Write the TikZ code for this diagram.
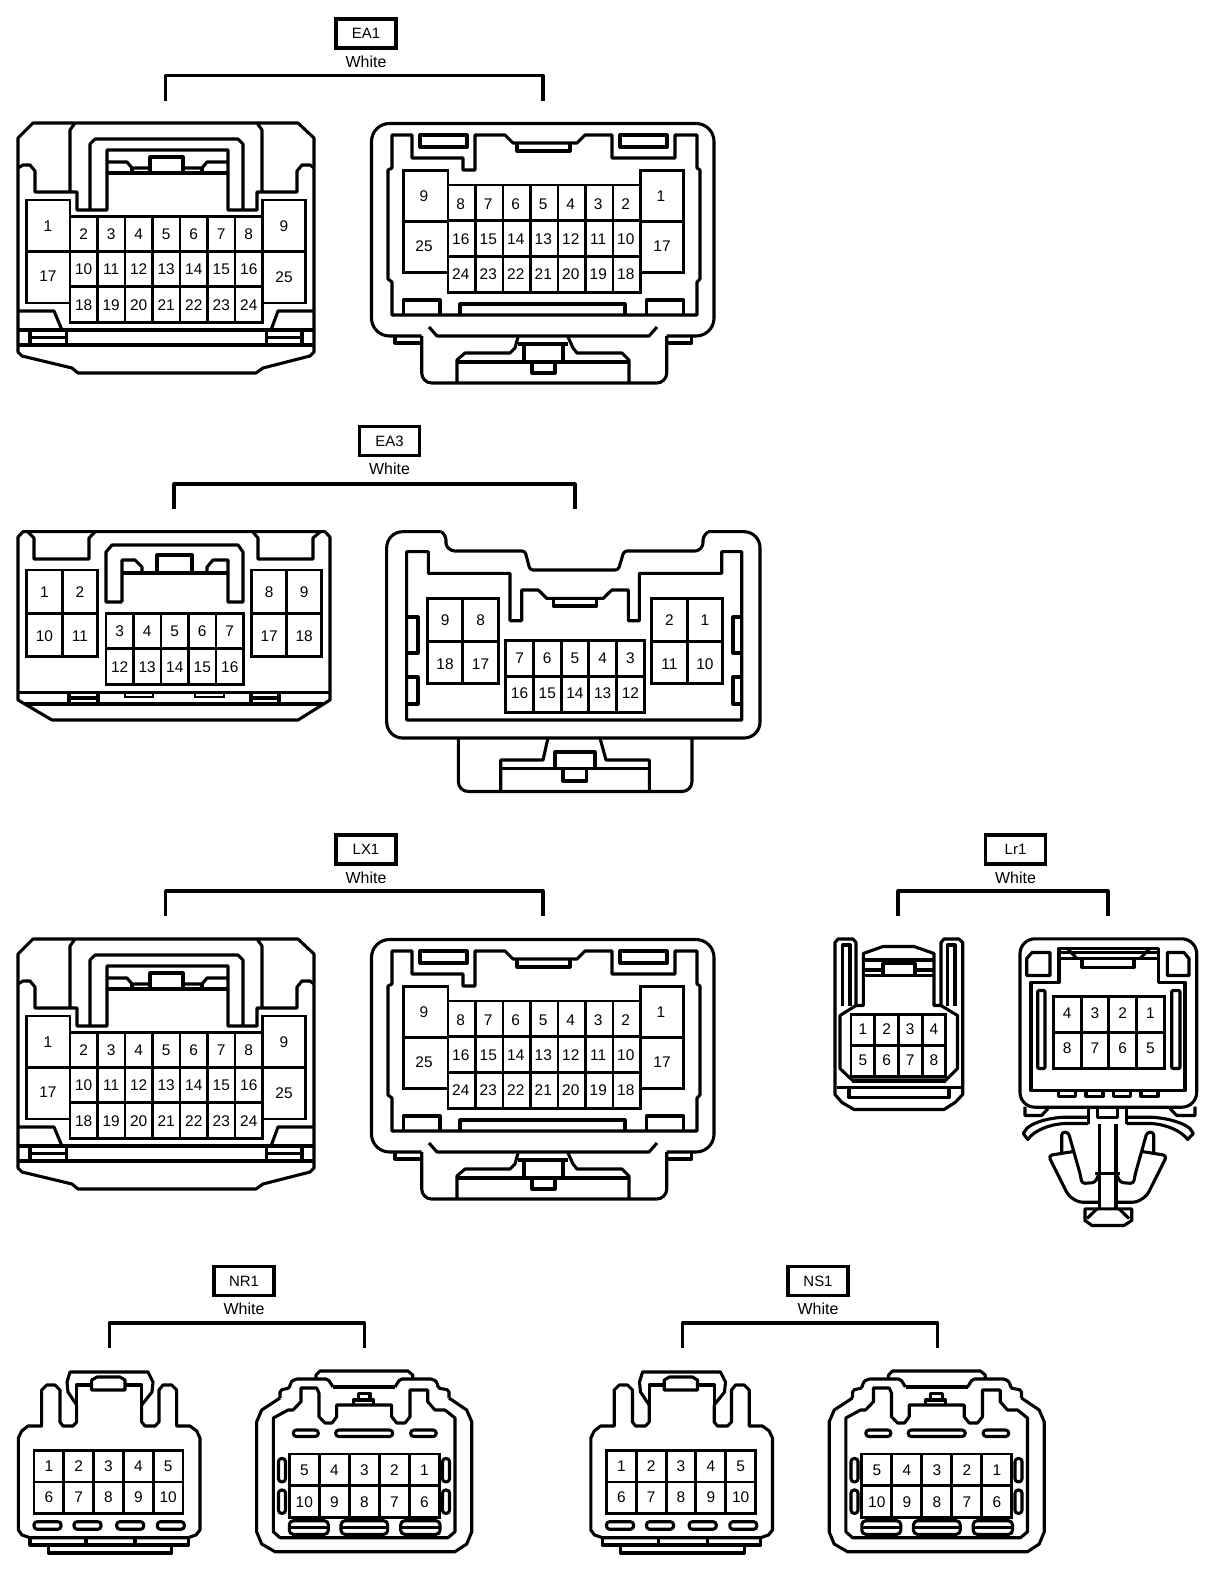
\documentclass[tikz,border=0pt]{standalone}
\usepackage{fontspec}
\setmainfont{Liberation Sans}
\usetikzlibrary{positioning}

\tikzset{
    shell/.style={line width=3.1pt, line join=round},
    pin/.style={line width=2.9pt},
    pinlabel/.style={inner sep=0pt, font=\fontsize{15.5}{16}\selectfont},
    tagbox/.style={draw, line width=3.1pt, minimum width=60bp, minimum height=29bp, inner sep=0pt, font=\fontsize{15}{16}\selectfont},
    colourtag/.style={inner sep=0pt, font=\fontsize{16}{16}\selectfont}
}

% grid of cavities: x, y, columns, rows, pitch x, pitch y
\newcommand{\pingrid}[6]{%
    \foreach \c in {1,...,#3} \foreach \r in {1,...,#4}
        \draw[pin] ({#1+(\c-1)*#5},{#2+(\r-1)*#6}) rectangle ++(#5,#6);
}
% row of numbers: prefix, x of first cell, pitch, y, numbers
\newcommand{\pinrow}[5]{%
    \foreach \n [count=\i] in {#5}
        \node[pinlabel] (#1\n) at ({#2+(\i-0.5)*#3},#4) {\n};
}
% title box, colour and bracket: name, text, x, y of box, left, right, y of bracket
\newcommand{\tagbracket}[7]{%
    \node[tagbox] (tag#1) at (#3,#4) {#2};
    \node[colourtag, below=6pt of tag#1] (col#1) {White};
    \draw[shell] (#5,#7+25) -- (#5,#7) -- (#6,#7) -- (#6,#7+25);
}

% big plug, 25 way
\newcommand{\widefront}[1]{%
    \draw[shell] (18,138) -- (33,123) -- (298,123) -- (314,138) -- (314,352) -- (310,356) -- (263,368) -- (256,373) -- (78,373) -- (72,368) -- (22,356) -- (18,352) -- cycle;
    \draw[shell] (18,168) -- (23,165) -- (30,165) -- (35,171) -- (35,192) -- (77,192) -- (77,210) -- (107,210) -- (107,150) -- (228,150) -- (228,210) -- (257,210) -- (257,192) -- (297,192) -- (297,171) -- (302,165) -- (310,165) -- (314,168);
    \draw[shell] (70,192) -- (70,130) -- (75,123) (262,192) -- (262,130) -- (257,123);
    \draw[shell] (90,210) -- (90,144) -- (95,139) -- (238,139) -- (243,144) -- (243,210);
    % latch
    \draw[shell] (107,162) -- (127,162) -- (132,168) -- (150,168) (183,168) -- (202,168) -- (207,162) -- (228,162);
    \draw[shell] (107,173) -- (228,173) (132,168) -- (132,173) (202,168) -- (202,173);
    \draw[shell] (150,172) -- (150,157) -- (183,157) -- (183,172);
    % cavities
    \pingrid{70}{216.5}{7}{3}{27.5}{35.2}
    \draw[pin] (26.5,200) rectangle (70,251.7) (26.5,251.7) rectangle (70,303);
    \draw[pin] (262.5,200) rectangle (305.5,251.7) (262.5,251.7) rectangle (305.5,303);
    \pinrow{#1}{70}{27.5}{234}{2,3,4,5,6,7,8}
    \pinrow{#1}{70}{27.5}{269}{10,11,12,13,14,15,16}
    \pinrow{#1}{70}{27.5}{305}{18,19,20,21,22,23,24}
    \node[pinlabel] (#11) at (48,226) {1};
    \node[pinlabel] (#117) at (48,276) {17};
    \node[pinlabel] (#19) at (284,226) {9};
    \node[pinlabel] (#125) at (284,277) {25};
    % lower rail
    \draw[shell] (18,311) -- (54,311) -- (62,330) (314,311) -- (278,311) -- (271,330);
    \draw[shell] (18,330) -- (314,330) (18,345) -- (314,345);
    \draw[shell] (30,330) -- (30,345) (66.5,330) -- (66.5,345) (30,337.5) -- (66.5,337.5);
    \draw[shell] (266.5,330) -- (266.5,345) (302,330) -- (302,345) (266.5,337.5) -- (302,337.5);
}
\newcommand{\wideback}[1]{%
    \draw[shell, rounded corners=18pt] (421.7,336) -- (371.5,336) -- (371.5,123.5) -- (714,123.5) -- (714,336) -- (666.7,336);
    \draw[shell] (395,336) -- (395,343) -- (421.7,343) (666.7,343) -- (691.7,343) -- (691.7,336);
    \draw[shell, rounded corners=10pt] (421.7,336) -- (421.7,383) -- (666.7,383) -- (666.7,336);
    \draw[shell] (392,135) -- (412,135) -- (412,158) -- (463,158) -- (463,170) -- (475,170) -- (475,135) -- (505,135) -- (513,143) -- (577,143) -- (585,135) -- (612,135) -- (612,158) -- (675,158) -- (675,135) -- (697,135) -- (697,168) -- (700,170) -- (700,279) -- (697,282) -- (697,315) -- (392,315) -- (392,282) -- (388,279) -- (388,170) -- (392,168) -- cycle;
    \draw[shell] (420,135) rectangle (467,147);
    \draw[shell] (620,135) rectangle (667,147);
    \draw[shell] (517,143) -- (517,151) -- (570,151) -- (570,143);
    % cavities
    \pingrid{448}{185}{7}{3}{27.5}{35.7}
    \draw[pin] (403.5,170.7) rectangle (448,221.7) (403.5,221.7) rectangle (448,272.3);
    \draw[pin] (640.5,170.7) rectangle (683.3,221.7) (640.5,221.7) rectangle (683.3,272.3);
    \pinrow{#1}{447}{27.5}{204.5}{8,7,6,5,4,3,2}
    \pinrow{#1}{447}{27.5}{239.5}{16,15,14,13,12,11,10}
    \pinrow{#1}{447}{27.5}{274.5}{24,23,22,21,20,19,18}
    \node[pinlabel] (#19) at (424,196) {9};
    \node[pinlabel] (#125) at (424,246.5) {25};
    \node[pinlabel] (#11) at (661,196) {1};
    \node[pinlabel] (#117) at (662,246.5) {17};
    % pads
    \draw[shell] (403.5,315) -- (403.5,300) -- (440,300) -- (440,315);
    \draw[shell] (646.7,315) -- (646.7,300) -- (683.3,300) -- (683.3,315);
    \draw[shell] (460,315) -- (460,304) -- (625,304) -- (625,315);
    % lock
    \draw[shell] (429,327) -- (437,336) -- (649,336) -- (657,327);
    \draw[shell] (518,337) -- (515,348) -- (510,353) -- (465,353) -- (457,360) -- (457,383);
    \draw[shell] (568,337) -- (573,348) -- (577,353) -- (622,353) -- (629,360) -- (629,383);
    \draw[shell] (457,362) -- (629,362);
    \draw[shell] (518,344) -- (568,344) (524,344) -- (524,362) (563,344) -- (563,362);
    \draw[shell] (532,362) -- (532,373) -- (555,373) -- (555,362);
}

% small plug, 10 way
\newcommand{\tenfront}[1]{%
    \draw[shell] (76.7,1405) -- (76.7,1422) -- (73,1426) -- (63,1426) -- (60,1422) -- (60,1390) -- (55,1385) -- (46.7,1385) -- (41.7,1390) -- (41.7,1426) -- (28,1426) -- (21.7,1431) -- (18.3,1438) -- (18.3,1530) -- (22,1535) -- (30,1537.7) -- (188,1537.7) -- (196,1535) -- (200,1530) -- (200,1438) -- (196.7,1431) -- (190,1426) -- (176.7,1426) -- (176.7,1390) -- (171.7,1385) -- (163,1385) -- (159,1390) -- (159,1422) -- (155,1426) -- (145,1426) -- (141.7,1422) -- (141.7,1405);
    \draw[shell] (76.7,1405) -- (68,1392) -- (67,1382) -- (70,1372) -- (148,1372) -- (153,1382) -- (152,1392) -- (141.7,1405);
    \draw[shell] (76.7,1405) -- (76.7,1385) -- (91.7,1385) (125,1385) -- (141.7,1385) -- (141.7,1405);
    \draw[shell] (91.7,1390) -- (91.7,1380) -- (97,1377) -- (120,1377) -- (125,1380) -- (125,1390) -- cycle;
    % cavities
    \pingrid{34}{1450.7}{5}{2}{29.8}{31.3}
    \pinrow{#1}{34}{29.8}{1466}{1,2,3,4,5}
    \pinrow{#1}{34}{29.8}{1497}{6,7,8,9,10}
    % slots
    \foreach \x in {34,74,116.7,157.3}
        \draw[shell, rounded corners=3pt] (\x,1521.7) rectangle ++(27,7.5);
    % foot
    \draw[shell] (30,1537.7) -- (30,1545) -- (48.3,1545) -- (48.3,1553) -- (171.7,1553) -- (171.7,1545) -- (188.3,1545) -- (188.3,1537.7);
    \draw[shell] (48.3,1545) -- (171.7,1545) (86,1537.7) -- (86,1545) (135,1537.7) -- (135,1545);
}
\newcommand{\tenback}[1]{%
    \draw[shell] (316,1379) -- (316,1375) -- (320,1371) -- (408,1371) -- (412.7,1375) -- (412.7,1379);
    \draw[shell, rounded corners=2pt] (333,1387) -- (328,1379) -- (295,1379) -- (290,1383) -- (290,1388) -- (280,1390) -- (280,1398);
    \draw[shell] (280,1398) -- (261.7,1410) -- (256.7,1421.7) -- (256.7,1532) -- (261.7,1544) -- (275,1551.7) -- (455,1551.7) -- (466.7,1544) -- (471.7,1532) -- (471.7,1421.7) -- (466.7,1410) -- (449,1398);
    \draw[shell, rounded corners=2pt] (395,1387) -- (400,1379) -- (433,1379) -- (437.7,1383) -- (437.7,1388) -- (449,1390) -- (449,1398);
    \draw[shell] (333,1387) -- (395,1387);
    \draw[shell] (273.3,1418) -- (288,1410) -- (293,1410) -- (301,1401.7) -- (301,1388) -- (316.7,1388) -- (319,1393) -- (319,1416.7) -- (325,1423) -- (332,1423) -- (336.7,1416.7) -- (336.7,1405) -- (391.7,1405) -- (391.7,1416.7) -- (396.7,1423) -- (405,1423) -- (410,1416.7) -- (410,1390) -- (427.7,1390) -- (427.7,1401.7) -- (435,1410) -- (445,1410) -- (455,1418) -- (455,1531.7) -- (448,1537.7) -- (280,1537.7) -- (273.3,1531.7) -- cycle;
    % latch
    \draw[shell] (358.3,1400) -- (358.3,1393.5) -- (370,1393.5) -- (370,1400);
    \draw[shell] (353.3,1405) -- (353.3,1400) -- (373.3,1400) -- (373.3,1405);
    % slots
    \foreach \x/\w in {293.3/25,335.7/57,410.7/25.5}
        \draw[shell, rounded corners=3pt] (\x,1430) rectangle ++(\w,6.5);
    % cavities
    \pingrid{289.3}{1454}{5}{2}{30}{31.6}
    \pinrow{#1}{289.3}{30}{1470}{5,4,3,2,1}
    \pinrow{#1}{289.3}{30}{1502}{10,9,8,7,6}
    \foreach \x in {278.5,442.5} \foreach \y in {1458.5,1490}
        \draw[shell, rounded corners=3pt] (\x,\y) rectangle ++(7,23.3);
    % pads
    \foreach \x/\w in {289.3/39,341/46.7,400.7/39.3} {
        \draw[shell, rounded corners=4pt] (\x,1520.7) rectangle ++(\w,13.6);
        \draw[shell] (\x,1527.5) -- ++(\w,0);
    }
}

\begin{document}
\begin{tikzpicture}[x=1bp, y=-1bp]
    \useasboundingbox (0,0) rectangle (1216,1574);

    % EA1
    \tagbracket{EAone}{EA1}{366}{33.5}{165.6}{543}{75.7}
    \widefront{eaoneF}
    \wideback{eaoneB}

    % EA3
    \tagbracket{EAthree}{EA3}{389.5}{441}{174}{575}{484}
    \draw[shell] (18,537) -- (23,531.7) -- (325,531.7) -- (330,537) -- (330,700) -- (298,720) -- (52,720) -- (18,700) -- cycle;
    \draw[shell] (28,532) -- (34,538) -- (34,559) -- (89,559) -- (89,538) -- (95,532);
    \draw[shell] (253,532) -- (258,538) -- (258,559) -- (313,559) -- (313,538) -- (320,532);
    \draw[shell] (122,602) -- (106,602) -- (106,552) -- (112,545) -- (238,545) -- (243,552) -- (243,602) -- (228,602) -- (228,560) -- (213,560) -- (207,567) -- (207,573);
    \draw[shell] (122,602) -- (122,560) -- (135,560) -- (142,567) -- (142,573);
    \draw[shell] (122,573) -- (228,573);
    \draw[shell] (157,573) -- (157,555) -- (192,555) -- (192,573);
    \pingrid{26.7}{570}{2}{2}{35.5}{43.3}
    \pingrid{251.7}{570}{2}{2}{35}{43.3}
    \pingrid{106}{613.3}{5}{2}{27.5}{35.4}
    \pinrow{eathreeF}{26.7}{35.5}{592}{1,2}
    \pinrow{eathreeF}{26.7}{35.5}{636}{10,11}
    \pinrow{eathreeF}{251.7}{35}{592}{8,9}
    \pinrow{eathreeF}{251.7}{35}{636}{17,18}
    \pinrow{eathreeF}{106}{27.5}{631}{3,4,5,6,7}
    \pinrow{eathreeF}{106}{27.5}{667}{12,13,14,15,16}
    \draw[shell] (18,692.7) -- (330,692.7) (25,704) -- (323,704);
    \draw[shell] (69,692.7) -- (69,704) (98,692.7) -- (98,704) (69,698) -- (98,698);
    \draw[shell] (251,692.7) -- (251,704) (279,692.7) -- (279,704) (251,698) -- (279,698);
    \draw[pin, line width=2pt] (125,692.7) -- (125,697) -- (153,697) -- (153,692.7);
    \draw[pin, line width=2pt] (195,692.7) -- (195,697) -- (224,697) -- (224,692.7);

    \draw[shell, rounded corners=3pt] (441.7,531.7) -- (446,537) -- (446,546) -- (451.7,551) -- (525,551) -- (530,570) -- (618.3,570) -- (624,551) -- (698,551) -- (703,546) -- (703,537) -- (708,531.7);
    \draw[shell, rounded corners=16pt] (708,531.7) -- (760,531.7) -- (760,738) -- (386.7,738) -- (386.7,531.7) -- (441.7,531.7);
    \draw[shell] (406.7,551.7) -- (428.3,551.7) -- (428.3,573.3) -- (510,573.3) -- (510,620.7) -- (521.7,620.7) -- (521.7,590) -- (538.3,590) -- (546.7,598.3) -- (603.3,598.3) -- (611.7,590) -- (628.3,590) -- (628.3,620.7) -- (639.3,620.7) -- (639.3,573.3) -- (721.7,573.3) -- (721.7,551.7) -- (741.7,551.7) -- (741.7,720) -- (406.7,720) -- cycle;
    \draw[shell] (553.3,598.3) -- (553.3,606) -- (596.7,606) -- (596.7,598.3);
    \draw[shell] (408,617) -- (418,617) -- (418,653) -- (408,653) (408,677) -- (418,677) -- (418,704) -- (408,704);
    \draw[shell] (741,617) -- (733,617) -- (733,653) -- (741,653) (741,677) -- (733,677) -- (733,704) -- (741,704);
    \pingrid{427.3}{598.3}{2}{2}{35.5}{42.8}
    \pingrid{651.7}{598.3}{2}{2}{35.5}{42.8}
    \pingrid{505.7}{640.7}{5}{2}{27.7}{35.8}
    \pinrow{eathreeB}{427.3}{35.5}{620}{9,8}
    \pinrow{eathreeB}{427.3}{35.5}{664}{18,17}
    \pinrow{eathreeB}{651.7}{35.5}{620}{2,1}
    \pinrow{eathreeB}{651.7}{35.5}{664}{11,10}
    \pinrow{eathreeB}{505.7}{27.7}{658.5}{7,6,5,4,3}
    \pinrow{eathreeB}{505.7}{27.7}{693.5}{16,15,14,13,12}
    \draw[shell, rounded corners=10pt] (458.3,738) -- (458.3,791.5) -- (692,791.5) -- (692,738);
    \draw[shell] (548,738) -- (543,760) -- (500.7,760) -- (500.7,791.5);
    \draw[shell] (600,738) -- (606,760) -- (649.3,760) -- (649.3,791.5);
    \draw[shell] (500.7,768.3) -- (649.3,768.3);
    \draw[shell] (555,768.3) -- (555,752) -- (595,752) -- (595,768.3);
    \draw[shell] (563,768.3) -- (563,781) -- (586.7,781) -- (586.7,768.3);

    % LX1
    \tagbracket{LXone}{LX1}{366}{849.5}{165.6}{543}{891}
    \begin{scope}[shift={(0,816)}]
        \widefront{lxoneF}
        \wideback{lxoneB}
    \end{scope}

    % Lr1
    \tagbracket{Lrone}{Lr1}{1015.5}{849.5}{898}{1108}{891}
    \begin{scope}[shift={(4,2.5)}]
    \draw[shell] (831,1004) -- (831,940) -- (834,936.5) -- (849,936.5) -- (852,940) -- (852,1003) -- (859.3,1003) -- (859.3,951) -- (879,944) -- (910,944) -- (930,951) -- (930,1003) -- (937,1003) -- (937,940) -- (940,936.5) -- (955,936.5) -- (958.7,940) -- (958.7,1004) -- (958.7,1092) -- (951,1100) -- (940,1107) -- (850,1107) -- (838,1100) -- (831,1092) -- cycle;
    \draw[shell] (838.7,1003) -- (838.7,942.5) -- (846,942.5) -- (846,1003) (943.7,1003) -- (943.7,942.5) -- (951,942.5) -- (951,1003);
    \draw[shell] (859.3,957.5) -- (930,957.5) (859.3,967.5) -- (879,967.5) (911,967.5) -- (930,967.5) (859.3,973) -- (930,973);
    \draw[shell] (879,973) -- (879,961) -- (911,961) -- (911,973);
    \draw[shell] (852,1003) -- (836,1013) -- (836,1066) -- (848,1077.5) -- (942,1077.5) -- (953.5,1066) -- (953.5,1013) -- (937,1003);
    \draw[shell] (848,1079) -- (942,1079);
    \draw[shell] (833,1085) -- (957,1085);
    \draw[shell] (845,1085) -- (845,1095) -- (945,1095) -- (945,1085);
    \pingrid{847}{1012}{4}{2}{23.7}{31}
    \pinrow{lroneF}{847}{23.7}{1027}{1,2,3,4}
    \pinrow{lroneF}{847}{23.7}{1058}{5,6,7,8}

    \draw[shell, rounded corners=15pt] (1016,936.3) rectangle (1192.7,1104.7);
    \draw[shell] (1027,980) -- (1055,980) -- (1055,945.7) -- (1154.3,945.7) -- (1154.3,980) -- (1181,980) -- (1181,1088) -- (1027,1088) -- cycle;
    \draw[shell] (1022.7,973) -- (1022.7,956) -- (1028,950) -- (1046,950) -- (1046,973) -- cycle;
    \draw[shell] (1163.3,950) -- (1180,950) -- (1185,956) -- (1185,973) -- (1163.3,973) -- cycle;
    \draw[shell] (1055,950) -- (1154.3,950) (1055,956) -- (1154.3,956);
    \draw[shell] (1063,945.7) -- (1073,956) (1146,945.7) -- (1136,956);
    \draw[shell] (1078,956) -- (1078,964.7) -- (1130,964.7) -- (1130,956);
    \draw[shell, rounded corners=1pt] (1033.7,988) rectangle (1041,1066) (1167.7,988) rectangle (1176,1066);
    \pingrid{1049.3}{993.7}{4}{2}{27.75}{36}
    \pinrow{lroneB}{1049.3}{27.75}{1011}{4,3,2,1}
    \pinrow{lroneB}{1049.3}{27.75}{1046}{8,7,6,5}
    \foreach \x in {1054.3,1082,1109.3,1137}
        \draw[shell] (\x,1088) -- (\x,1093.7) -- ++(17,0) -- ++(0,-5.7);
    % clip below the shell
    \draw[shell] (1021,1104) -- (1021,1113) -- (1037.7,1113) -- (1044,1106);
    \draw[shell] (1191,1104) -- (1191,1113) -- (1172.7,1113) -- (1166,1106);
    \draw[shell] (1084.3,1104.7) -- (1084.3,1121) (1122.7,1104.7) -- (1122.7,1121);
    \draw[shell] (1093.7,1104.7) -- (1093.7,1114.7) -- (1113.7,1114.7) -- (1113.7,1104.7);
    \draw[shell] (1084.3,1114.7) -- (1059.3,1114.7) .. controls (1040,1116) and (1028,1121) .. (1022.7,1126) -- (1019.3,1131) -- (1023.7,1137) .. controls (1030,1128) and (1045,1122) .. (1060,1121) -- (1084.3,1121);
    \draw[shell] (1122.7,1114.7) -- (1147.7,1114.7) .. controls (1167,1116) and (1180,1121) .. (1186,1126) -- (1189.3,1131) -- (1183.7,1137) .. controls (1177,1128) and (1162,1122) .. (1147.7,1121) -- (1122.7,1121);
    \draw[shell] (1095.3,1121) -- (1095.3,1206) (1112,1121) -- (1112,1206) (1091,1171) -- (1116,1171);
    \draw[shell] (1081,1206.3) -- (1127.7,1206.3) -- (1127.7,1218) -- (1120,1223) -- (1088,1223) -- (1081,1218) -- cycle;
    \draw[shell] (1083,1216) -- (1093,1206.3) (1125,1216) -- (1115,1206.3);
    % fins
    \draw[shell, rounded corners=3pt] (1057.7,1149.7) -- (1057.7,1129.7) -- (1064.3,1129.7) -- (1076,1171) -- (1078,1181) -- (1091,1180) -- (1095.3,1171);
    \draw[shell, rounded corners=4pt] (1069.3,1149) -- (1044.3,1153) -- (1064.3,1193) -- (1074.3,1199.7) -- (1095.3,1199.7);
    \draw[shell, rounded corners=3pt] (1149.7,1149.7) -- (1149.7,1129.7) -- (1143,1129.7) -- (1131.4,1171) -- (1129.4,1181) -- (1116.4,1180) -- (1112,1171);
    \draw[shell, rounded corners=4pt] (1138,1149) -- (1163,1153) -- (1143,1193) -- (1133,1199.7) -- (1112,1199.7);
    \end{scope}

    % NR1
    \tagbracket{NRone}{NR1}{244}{1281}{109.5}{364.5}{1323}
    \tenfront{nroneF}
    \tenback{nroneB}

    % NS1
    \tagbracket{NSone}{NS1}{818}{1281}{682.5}{937.5}{1323}
    \begin{scope}[shift={(572.5,0)}]
        \tenfront{nsoneF}
        \tenback{nsoneB}
    \end{scope}
\end{tikzpicture}
\end{document}
